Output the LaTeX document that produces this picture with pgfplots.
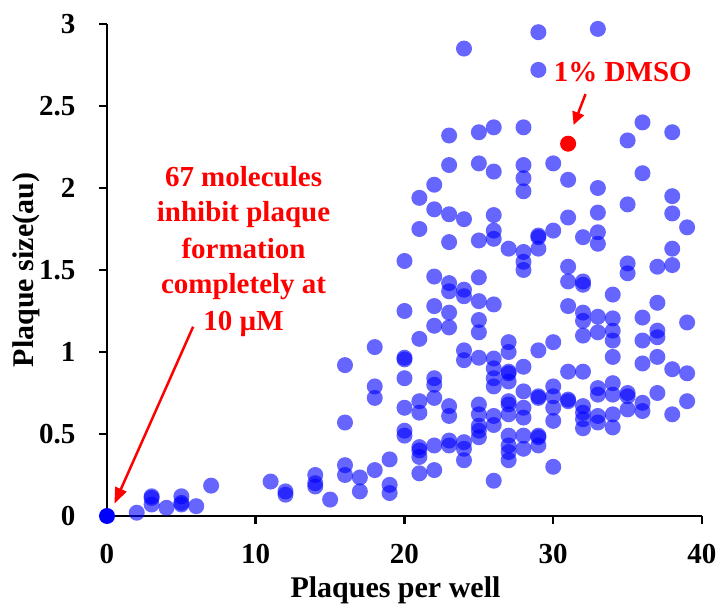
\documentclass[border=0pt]{standalone}
\usepackage{fontspec}
\setmainfont{Liberation Serif}
\usepackage{pgfplots}
\pgfplotsset{compat=1.18}
\usetikzlibrary{arrows.meta}
\definecolor{dotblue}{HTML}{0000FF}
\definecolor{annred}{HTML}{FF0000}

\pgfplotstableread{
x y
2 0.02
3 0.12
3 0.11
3 0.07
4 0.05
5 0.12
5 0.08
5 0.07
6 0.06
7 0.185
11 0.21
12 0.15
12 0.13
14 0.25
14 0.20
14 0.18
15 0.10
16 0.92
16 0.57
16 0.31
16 0.25
17 0.235
17 0.15
18 1.03
18 0.79
18 0.72
18 0.28
19 0.345
19 0.19
19 0.14
20 1.555
20 1.25
20 0.965
20 0.955
20 0.84
20 0.66
20 0.52
20 0.49
21 1.94
21 1.75
21 1.08
21 0.70
21 0.63
21 0.42
21 0.40
21 0.36
21 0.26
22 2.02
22 1.87
22 1.46
22 1.28
22 1.16
22 0.84
22 0.80
22 0.72
22 0.43
22 0.28
23 2.32
23 2.14
23 1.84
23 1.67
23 1.42
23 1.37
23 1.24
23 1.15
23 0.67
23 0.61
23 0.46
23 0.43
24 2.85
24 1.81
24 1.38
24 1.34
24 1.01
24 0.95
24 0.45
24 0.41
24 0.34
25 2.34
25 2.15
25 1.68
25 1.455
25 1.31
25 1.195
25 1.12
25 0.965
25 0.68
25 0.62
25 0.55
25 0.52
25 0.48
26 2.37
26 2.10
26 1.835
26 1.74
26 1.69
26 1.29
26 0.96
26 0.90
26 0.84
26 0.79
26 0.61
26 0.555
26 0.215
27 1.63
27 1.06
27 1.00
27 0.88
27 0.87
27 0.82
27 0.70
27 0.68
27 0.62
27 0.49
27 0.43
27 0.39
27 0.34
28 2.37
28 2.14
28 2.06
28 1.98
28 1.61
28 1.55
28 1.50
28 0.91
28 0.76
28 0.66
28 0.60
28 0.49
28 0.41
29 2.95
29 2.72
29 1.71
29 1.70
29 1.63
29 1.01
29 0.73
29 0.72
29 0.49
29 0.48
29 0.43
30 2.15
30 1.74
30 1.06
30 0.79
30 0.73
30 0.66
30 0.58
30 0.30
31 2.05
31 1.82
31 1.52
31 1.43
31 1.28
31 0.88
31 0.71
31 0.70
32 1.70
32 1.43
32 1.41
32 1.24
32 1.19
32 1.10
32 0.88
32 0.67
32 0.63
32 0.59
32 0.535
33 2.97
33 2.00
33 1.85
33 1.73
33 1.66
33 1.215
33 1.12
33 0.78
33 0.74
33 0.61
33 0.57
34 1.35
34 1.205
34 1.13
34 1.07
34 0.97
34 0.81
34 0.74
34 0.62
34 0.54
35 2.29
35 1.90
35 1.54
35 1.48
35 0.75
35 0.73
35 0.65
36 2.40
36 2.09
36 1.21
36 1.07
36 0.93
36 0.69
36 0.64
37 1.52
37 1.30
37 1.13
37 1.09
37 0.97
37 0.75
38 2.34
38 1.95
38 1.845
38 1.63
38 1.53
38 0.895
38 0.62
39 1.76
39 1.18
39 0.87
39 0.70
}\molecules

\newcommand{\bigbf}{\fontsize{29}{35}\selectfont\bfseries}
\newcommand{\labbf}{\fontsize{30}{36}\selectfont\bfseries}

\begin{document}
\begin{tikzpicture}
\begin{axis}[
  scale only axis,
  width=595pt, height=492pt,
  xmin=0, xmax=40, ymin=0, ymax=3,
  xtick={0,10,20,30,40},
  ytick={0,0.5,1,1.5,2,2.5,3},
  axis lines=left,
  axis line style={-, line width=2.5pt, black},
  tick style={line width=2.5pt, black},
  major tick length=8pt,
  tick align=outside,
  tick label style={font=\bigbf},
  xticklabel style={yshift=-17pt},
  yticklabel style={xshift=-20pt},
  /pgf/number format/assume math mode=true,
  xlabel={Plaques per well},
  ylabel={Plaque size(au)},
  label style={font=\labbf},
  xlabel style={at={(axis description cs:0.5,0)}, anchor=base, yshift=-82pt, xshift=-9pt},
  ylabel style={at={(axis description cs:0,0.5)}, anchor=base, yshift=73pt},
  clip=false,
]
% screened molecules
\addplot[only marks, mark=*, mark size=8pt,
  mark options={draw opacity=0, line width=0pt, fill=dotblue, fill opacity=0.6}]
  table[x=x, y=y] {\molecules};
% molecules with no plaques (overlapping at the origin)
\addplot[only marks, mark=*, mark size=8pt,
  mark options={draw opacity=0, line width=0pt, fill=dotblue}]
  coordinates {(0,0)};
% DMSO control
\addplot[only marks, mark=*, mark size=8pt,
  mark options={draw opacity=0, line width=0pt, fill=annred}]
  coordinates {(31,2.27)};

\node[annred, font=\bigbf, anchor=base] at (axis cs:34.68,2.648) {1\% DMSO};
\draw[annred, line width=2.5pt, -{Triangle[length=13pt,width=12pt]}]
  (axis cs:32.17,2.573) -- (axis cs:31.37,2.384);

\node[annred, font=\bigbf, anchor=base] at (axis cs:9.18,2.012) {67 molecules};
\node[annred, font=\bigbf, anchor=base] at (axis cs:9.18,1.793) {inhibit plaque};
\node[annred, font=\bigbf, anchor=base] at (axis cs:9.18,1.573) {formation};
\node[annred, font=\bigbf, anchor=base] at (axis cs:9.18,1.354) {completely at};
\node[annred, font=\bigbf, anchor=base] at (axis cs:9.18,1.134) {10 µM};
\draw[annred, line width=2.5pt, -{Triangle[length=16pt,width=12pt]}]
  (axis cs:5.79,1.154) -- (axis cs:0.50,0.075);
\end{axis}
\pgfresetboundingbox
\path[use as bounding box] (current axis.south west) ++(-107pt,-88pt) rectangle ++(716pt,604pt);
\end{tikzpicture}
\end{document}
